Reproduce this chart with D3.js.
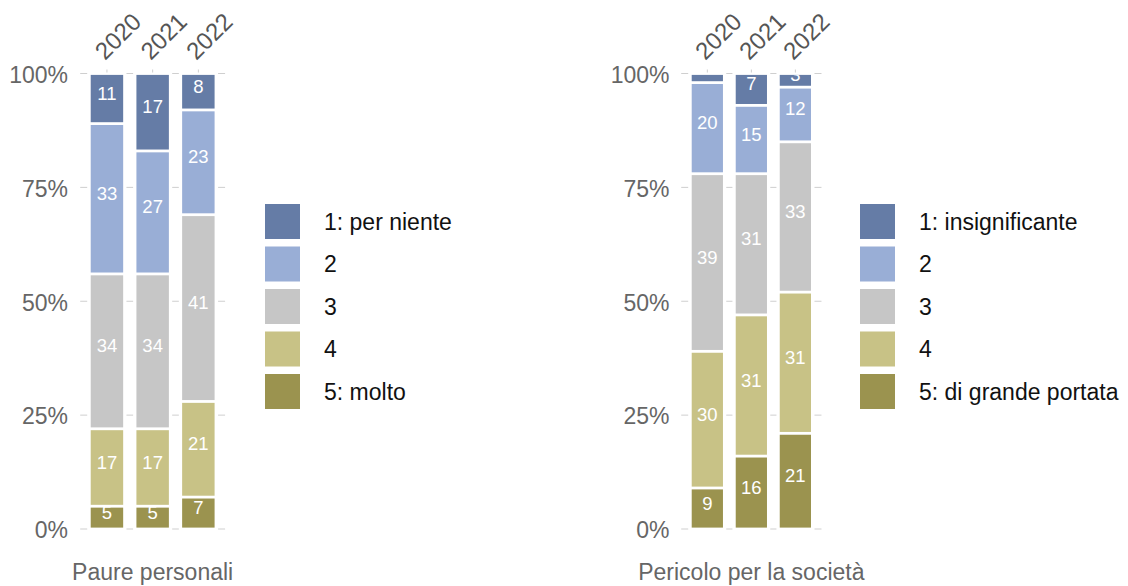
<!DOCTYPE html>
<html>
<head>
<meta charset="utf-8">
<script src="https://cdn.jsdelivr.net/npm/d3@7"></script>
<style>
  body { margin: 0; background: #fff; }
  svg { display: block; font-family: "Liberation Sans", Arial, Helvetica, sans-serif; }
</style>
</head>
<body>
<svg width="1128" height="586"></svg>
<script>
// years on the x axis
const years = ['2020', '2021', '2022'];

// answer levels, 1 = top of the stack, 5 = bottom
const levels = ['1', '2', '3', '4', '5'];
const colors = ['#657ca6', '#99aed6', '#c6c6c6', '#c8c286', '#9b934f'];

// legend labels
const paureLegend = ['1: per niente', '2', '3', '4', '5: molto'];
const pericoloLegend = ['1: insignificante', '2', '3', '4', '5: di grande portata'];

// shares in %, level 1..5
const paure2020 = [11, 33, 34, 17, 5];
const paure2021 = [17, 27, 34, 17, 5];
const paure2022 = [8, 23, 41, 21, 7];

const pericolo2020 = [2, 20, 39, 30, 9];
const pericolo2021 = [7, 15, 31, 31, 16];
const pericolo2022 = [3, 12, 33, 31, 21];

const yTicks = [0, 25, 50, 75, 100];

const svg = d3.select('svg');

const yScale = d3.scaleLinear()
  .domain([0, 100])
  .range([529, 73.5]);

const color = d3.scaleOrdinal().domain(levels).range(colors);

const toRows = arrs => years.map((yr, i) => {
  const row = { year: yr };
  levels.forEach((l, j) => row[l] = arrs[i][j]);
  return row;
});

const panels = [
  {
    id: 'p1',
    title: 'Paure personali',
    legend: paureLegend,
    rows: toRows([paure2020, paure2021, paure2022]),
    range: [77, 228.3],
    legendX: 265
  },
  {
    id: 'p2',
    title: 'Pericolo per la società',
    legend: pericoloLegend,
    rows: toRows([pericolo2020, pericolo2021, pericolo2022]),
    range: [678.5, 824.2],
    legendX: 860
  }
];

// bottom level first so it sits on the axis
const stack = d3.stack().keys(levels.slice().reverse());

panels.forEach(p => {
  const xScale = d3.scaleBand()
    .domain(years)
    .range(p.range)
    .paddingInner(0.29)
    .paddingOuter(0.3);

  const g = svg.append('g');
  const bw = xScale.bandwidth();

  // gridlines only show in the gaps between bars
  const edges = years.map(d => [xScale(d), xScale(d) + bw]);
  const gaps = [[edges[0][0] - 10.5, edges[0][0] - 3.5]];
  for (let i = 1; i < edges.length; i++) {
    gaps.push([edges[i - 1][1] + 3.3, edges[i][0] - 3.3]);
  }
  gaps.push([edges[edges.length - 1][1] + 3.5, edges[edges.length - 1][1] + 10.5]);

  yTicks.forEach(t => {
    g.selectAll(null)
      .data(gaps)
      .enter()
      .append('line')
      .attr('x1', d => d[0])
      .attr('x2', d => d[1])
      .attr('y1', yScale(t))
      .attr('y2', yScale(t))
      .attr('stroke', '#cfcfcf')
      .attr('stroke-width', 1);
  });

  // y axis
  const yAxisG = g.append('g')
    .attr('transform', `translate(${p.range[0]},0)`)
    .call(d3.axisLeft(yScale)
      .tickValues(yTicks)
      .tickFormat(d => d + '%')
      .tickSize(0)
      .tickPadding(9));
  yAxisG.select('.domain').remove();
  yAxisG.selectAll('text')
    .attr('font-size', 23)
    .attr('font-family', null)
    .attr('fill', '#666')
    .attr('dy', '0.38em');

  // top x axis, rotated year labels
  const xAxisG = g.append('g')
    .attr('transform', 'translate(0,72.5)')
    .call(d3.axisTop(xScale).tickSize(3).tickFormat(''));
  xAxisG.select('.domain').remove();
  xAxisG.selectAll('line').attr('stroke', '#cfcfcf');

  g.selectAll('.year')
    .data(years)
    .enter()
    .append('text')
    .attr('class', 'year')
    .attr('transform', d => `translate(${xScale(d) + bw / 2 - 2},61) rotate(-45)`)
    .attr('font-size', 24)
    .attr('fill', '#555')
    .text(d => d);

  // bars
  const series = stack(p.rows);

  g.selectAll('.layer')
    .data(series)
    .enter()
    .append('g')
    .attr('fill', d => color(d.key))
    .selectAll('rect')
    .data(d => d)
    .enter()
    .append('rect')
    .attr('x', d => xScale(d.data.year))
    .attr('width', bw)
    .attr('y', d => yScale(d[1]) + 1.4)
    .attr('height', d => yScale(d[0]) - yScale(d[1]) - 2.8);

  // value labels, clipped to the plot area
  const clipId = 'clip-' + p.id;
  svg.append('clipPath')
    .attr('id', clipId)
    .append('rect')
    .attr('x', p.range[0])
    .attr('width', p.range[1] - p.range[0])
    .attr('y', yScale(100) + 1.4)
    .attr('height', yScale(0) - yScale(100));

  const labels = [];
  series.forEach(s => s.forEach(d => {
    const v = d[1] - d[0];
    if (v >= 3) labels.push({ x: xScale(d.data.year) + bw / 2, y: yScale((d[0] + d[1]) / 2), v });
  }));

  g.append('g')
    .attr('clip-path', `url(#${clipId})`)
    .selectAll('text')
    .data(labels)
    .enter()
    .append('text')
    .attr('x', d => d.x)
    .attr('y', d => d.y + 1)
    .attr('text-anchor', 'middle')
    .attr('font-size', 18.5)
    .attr('fill', '#fff')
    .text(d => d.v);

  // panel title below
  g.append('text')
    .attr('x', (p.range[0] + p.range[1]) / 2)
    .attr('y', 580)
    .attr('text-anchor', 'middle')
    .attr('font-size', 23)
    .attr('fill', '#666')
    .text(p.title);

  // legend
  const legend = g.append('g')
    .attr('transform', `translate(${p.legendX},204)`);

  const item = legend.selectAll('g')
    .data(p.legend)
    .enter()
    .append('g')
    .attr('transform', (d, i) => `translate(0,${i * 42.5})`);

  item.append('rect')
    .attr('width', 35)
    .attr('height', 35)
    .attr('fill', (d, i) => colors[i]);

  item.append('text')
    .attr('x', 59)
    .attr('y', 17.5)
    .attr('dy', '0.36em')
    .attr('font-size', 23)
    .attr('fill', '#111')
    .text(d => d);
});
</script>
</body>
</html>
